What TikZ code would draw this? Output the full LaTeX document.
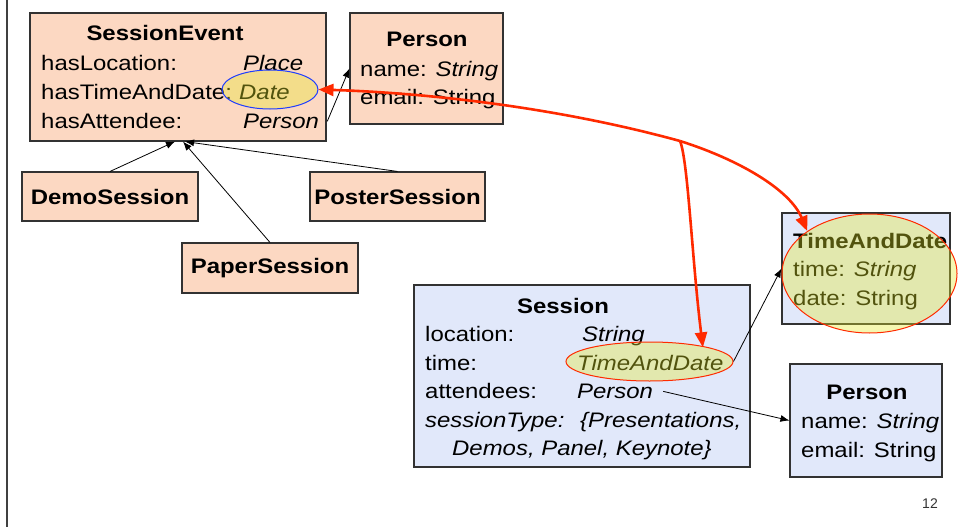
\documentclass[tikz,border=0pt]{standalone}
\usepackage{fontspec}
\setmainfont{Liberation Sans}[FakeStretch=1.14]
\newfontfamily\pagenumfont{Liberation Sans}
\usepackage{xcolor}
\usepackage{tikz}
\usetikzlibrary{arrows.meta,shapes.geometric}

\definecolor{peach}{RGB}{252,216,194}
\definecolor{paleblue}{RGB}{225,232,250}
\definecolor{boxline}{RGB}{50,50,50}
\definecolor{linkred}{RGB}{255,42,0}
\definecolor{hilite}{RGB}{228,232,40}
\definecolor{ringblue}{RGB}{30,60,255}

\begin{document}
\begin{tikzpicture}[x=1pt, y=-1pt, >={Latex[length=9pt,width=7pt]},
    every node/.style={inner sep=0pt, font=\fontsize{21}{29}\selectfont},
    peachbox/.style={draw=boxline, line width=1.1pt, fill=peach},
    bluebox/.style={draw=boxline, line width=1.1pt, fill=paleblue},
    classname/.style={anchor=base, font=\fontsize{21}{29}\selectfont\bfseries},
    attr/.style={anchor=base west},
    yellowring/.style={ellipse, draw=#1, line width=1pt, fill=hilite, fill opacity=0.36},
    isa/.style={->, line width=0.8pt},
    redlink/.style={draw=linkred, line width=2.6pt, -{Triangle[length=15pt,width=12pt]}}]
        \useasboundingbox (0,0) rectangle (958,527);
        \draw[line width=1.5pt, black!75] (7,0) -- (7,527);

        % SessionEvent and its subclasses
        \node[peachbox, minimum width=296, minimum height=128] (se) at (178,77) {};
        \node[classname] (se-name) at (165,41) {SessionEvent};
        \node[attr] (se-loc) at (41,70.5) {hasLocation:};
        \node[attr] (se-locT) at (243,70.5) {\itshape Place};
        \node[attr] (se-time) at (41,99.5) {hasTimeAndDate:};
        \node[attr] (se-timeT) at (239,99.5) {\itshape Date};
        \node[attr] (se-att) at (41,128.5) {hasAttendee:};
        \node[attr] (se-attT) at (243,128.5) {\itshape Person};

        \node[peachbox, minimum width=153, minimum height=111] (ptop) at (426.5,68.5) {};
        \node[classname] (ptop-name) at (427,47) {Person};
        \node[attr] (ptop-n) at (360,76) {name: \textit{String}};
        \node[attr] (ptop-e) at (360,104.5) {email: String};

        \node[peachbox, minimum width=176, minimum height=49, font=\fontsize{21}{29}\selectfont\bfseries] (demo) at (110,196.5) {DemoSession};
        \node[peachbox, minimum width=175, minimum height=49, font=\fontsize{21}{29}\selectfont\bfseries] (poster) at (397.5,196.5) {PosterSession};
        \node[peachbox, minimum width=176, minimum height=50, font=\fontsize{21}{29}\selectfont\bfseries] (paper) at (270,268) {PaperSession};

        % Session side
        \node[bluebox, minimum width=336, minimum height=182] (sess) at (582,376) {};
        \node[classname] (sess-name) at (563,313) {Session};
        \node[attr] (sess-loc) at (425,341.5) {location:};
        \node[attr] (sess-locT) at (582,341.5) {\itshape String};
        \node[attr] (sess-time) at (425,370) {time:};
        \node[attr] (sess-timeT) at (577,370) {\itshape TimeAndDate};
        \node[attr] (sess-att) at (425,398.5) {attendees:};
        \node[attr] (sess-attT) at (577,398.5) {\itshape Person};
        \node[attr] (sess-type) at (425,427) {\itshape sessionType:};
        \node[attr] (sess-typeT) at (580,427) {\itshape \{Presentations,};
        \node[attr] (sess-typeT2) at (452,455.5) {\itshape Demos, Panel, Keynote\}};

        \node[bluebox, minimum width=168, minimum height=111] (tdbox) at (866,268.5) {};
        \node[attr, font=\fontsize{21}{29}\selectfont\bfseries] (td-name) at (793,248) {TimeAndDate};
        \node[attr] (td-t) at (793,276.5) {time: \textit{String}};
        \node[attr] (td-d) at (793,305) {date: String};

        \node[bluebox, minimum width=152, minimum height=113] (pbot) at (866,420.5) {};
        \node[classname] (pbot-name) at (867,399) {Person};
        \node[attr] (pbot-n) at (801,428) {name: \textit{String}};
        \node[attr] (pbot-e) at (801,457) {email: String};

        % highlights
        \node[yellowring=ringblue, minimum width=96, minimum height=39] (dateell) at (270,89.5) {};
        \node[yellowring=linkred, minimum width=167, minimum height=39] (tdsmall) at (649.5,361.5) {};
        \node[yellowring=linkred, minimum width=175, minimum height=119] (tdbig) at (869.5,273.5) {};

        % connectors
        \draw[isa] ([xshift=8pt]se-attT.east) -- (ptop.west);
        \draw[isa] (demo.north) -- ([xshift=-3pt]se.south);
        \draw[isa] (paper.north) -- ([xshift=5pt]se.south);
        \draw[isa] (poster.north) -- ([xshift=7pt]se.south);
        \draw[isa] (tdsmall.east) -- (tdbox.west);
        \draw[isa] ([xshift=10pt]sess-attT.east) -- (pbot.west);

        \coordinate (fork) at (680,141);
        \draw[redlink] (fork) .. controls (560,108) and (430,93) .. (dateell.east);
        \draw[redlink] (fork) .. controls (740,160) and (790,190) .. (tdbig.north west);
        \draw[redlink] (fork) .. controls (688,160) and (692,260) .. ([xshift=-6pt]tdsmall.north east);

        \node[font=\pagenumfont\fontsize{14}{16}\selectfont, text=black!80, anchor=base] (pagenum) at (930,508) {12};
\end{tikzpicture}
\end{document}
